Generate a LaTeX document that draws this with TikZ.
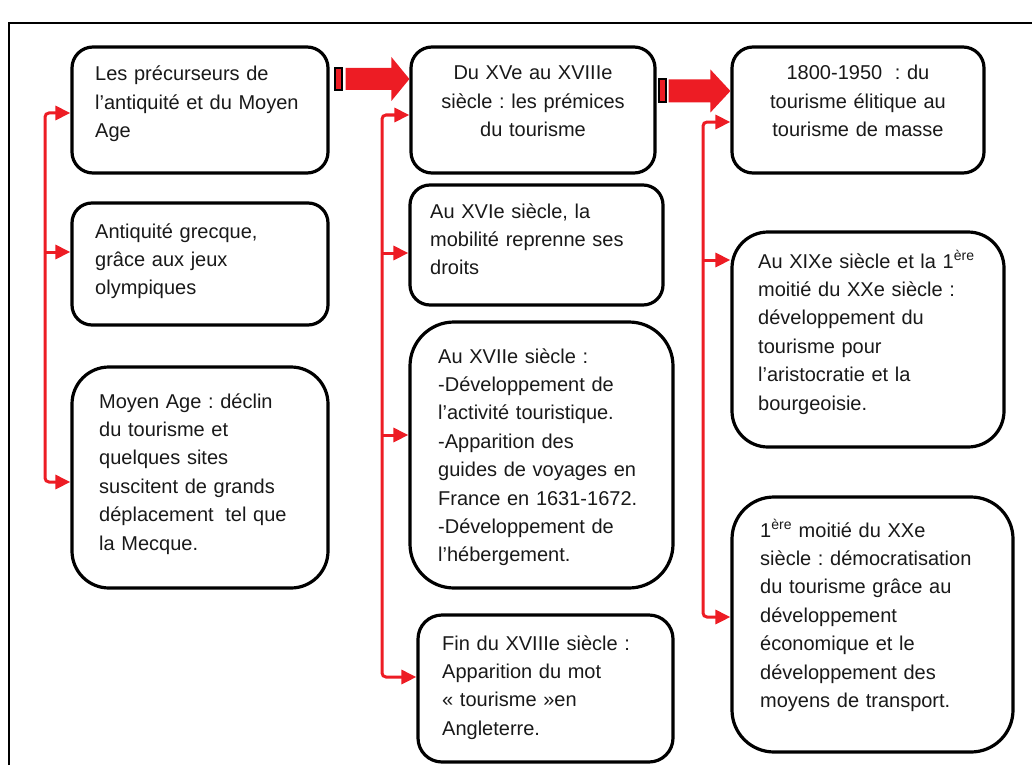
\documentclass[tikz,border=0pt]{standalone}
\usepackage{fontspec}
\setmainfont{Liberation Sans}
\usetikzlibrary{arrows.meta,calc}
\frenchspacing
\definecolor{offred}{RGB}{237,28,36}
\definecolor{inkc}{RGB}{25,25,25}
\tikzset{
  box/.style={draw=black, line width=3.2pt, fill=white, inner sep=0pt},
  txt/.style={inner sep=0pt, anchor=base west, text width=290pt, align=left,
    font=\fontsize{20}{28.4}\selectfont\frenchspacing, text=inkc},
  ctxt/.style={inner sep=0pt, anchor=base, text width=250pt, align=center,
    font=\fontsize{20}{28.4}\selectfont\frenchspacing, text=inkc},
  conn/.style={draw=offred, line width=3pt, rounded corners=4pt,
    -{Triangle[length=15pt,width=14pt]}},
  conntwo/.style={draw=offred, line width=3pt, rounded corners=4pt,
    {Triangle[length=15pt,width=14pt]}-{Triangle[length=15pt,width=14pt]}},
  bigred/.style={fill=offred},
  stripe/.style={fill=offred, draw=black, line width=2pt},
  frame/.style={draw=black, line width=1.6pt}
}
\begin{document}
\begin{tikzpicture}[x=1pt,y=-1pt]
\useasboundingbox (0,0) rectangle (1032,765);
% frame of the page figure
\draw[frame] (9,765) -- (9,23) -- (1032,23);

% boxes
\node[box, minimum width=256pt, minimum height=126pt, rounded corners=21pt] (b1) at (200,110) {};
\node[box, minimum width=256pt, minimum height=122pt, rounded corners=20pt] (b2) at (200,264) {};
\node[box, minimum width=256pt, minimum height=221pt, rounded corners=37pt] (b3) at (200,477.5) {};
\node[box, minimum width=244pt, minimum height=126pt, rounded corners=21pt] (b4) at (533,110) {};
\node[box, minimum width=253pt, minimum height=120pt, rounded corners=20pt] (b5) at (536.5,245) {};
\node[box, minimum width=263pt, minimum height=266pt, rounded corners=44pt] (b6) at (541.5,455) {};
\node[box, minimum width=255pt, minimum height=147pt, rounded corners=24pt] (b7) at (545.5,688.5) {};
\node[box, minimum width=252pt, minimum height=126pt, rounded corners=21pt] (b8) at (858,110) {};
\node[box, minimum width=272pt, minimum height=215pt, rounded corners=36pt] (b9) at (868,339.5) {};
\node[box, minimum width=281pt, minimum height=255pt, rounded corners=42pt] (b10) at (872.5,624.5) {};

% texts
\node[txt] (t1) at (95,81) {Les précurseurs de\\l’antiquité et du Moyen\\Age};
\node[txt] (t2) at (95,238) {Antiquité grecque,\\grâce aux jeux\\olympiques};
\node[txt] (t3) at (99,408) {Moyen Age : déclin\\du tourisme et\\quelques sites\\suscitent de grands\\déplacement\hspace{5pt} tel que\\la Mecque.};
\node[ctxt] (t4) at (533,80) {Du XVe au XVIIIe\\siècle : les prémices\\du tourisme};
\node[txt] (t5) at (430,218) {Au XVIe siècle, la\\mobilité reprenne ses\\droits};
\node[txt] (t6) at (438,363) {Au XVIIe siècle :\\-Développement de\\l'activité touristique.\\-Apparition des\\guides de voyages en\\France en 1631-1672.\\-Développement de\\l'hébergement.};
\node[txt] (t7) at (442,650) {Fin du XVIIIe siècle :\\Apparition du mot\\« tourisme »en\\Angleterre.};
\node[ctxt] (t8) at (858,80) {1800-1950\hspace{6pt} : du\\tourisme élitique au\\tourisme de masse};
\node[txt] (t9) at (758,268) {Au XIXe siècle et la 1\textsuperscript{ère}\\moitié du XXe siècle :\\développement du\\tourisme pour\\l'aristocratie et la\\bourgeoisie.};
\node[txt] (t10) at (760,537) {1\textsuperscript{ère} moitié du XXe\\siècle : démocratisation\\du tourisme grâce au\\développement\\économique et le\\développement des\\moyens de transport.};

% spine coordinates
\coordinate (L1) at (45,113);
\coordinate (L2) at (45,252);
\coordinate (L3) at (45,482);
\coordinate (M1) at (382,115);
\coordinate (M2) at (382,253);
\coordinate (M3) at (382,435);
\coordinate (M4) at (382,677);
\coordinate (R1) at (703,122);
\coordinate (R2) at (703,260);
\coordinate (R3) at (703,617);
\coordinate (A1) at (0,79);
\coordinate (A2) at (0,91);

% red connectors
\draw[conntwo] (b1.west |- L1) -- (L1) -- (L3) -- (b3.west |- L3);
\draw[conn] (L2) -- (b2.west |- L2);
\draw[conntwo] (b4.west |- M1) -- (M1) -- (M4) -- (b7.west |- M4);
\draw[conn] (M2) -- (b5.west |- M2);
\draw[conn] (M3) -- (b6.west |- M3);
\draw[conntwo] (b8.west |- R1) -- (R1) -- (R3) -- (b10.west |- R3);
\draw[conn] (R2) -- (b9.west |- R2);

% big striped arrows
\fill[bigred] (b4.west |- A1) -- ++(-18,-22) -- ++(0,11) -- ($(b1.east |- A1)+(16,-11)$)
  -- ++(0,22) -- ($(b4.west |- A1)+(-18,11)$) -- ++(0,11) -- cycle;
\draw[stripe] ($(b1.east |- A1)+(5,-11)$) rectangle ++(7,22);
\fill[bigred] (b8.west |- A2) -- ++(-20,-21.5) -- ++(0,10) -- ($(b4.east |- A2)+(12,-11.5)$)
  -- ++(0,23) -- ($(b8.west |- A2)+(-20,11.5)$) -- ++(0,10) -- cycle;
\draw[stripe] ($(b4.east |- A2)+(2,-11.5)$) rectangle ++(7,23);
\end{tikzpicture}
\end{document}
